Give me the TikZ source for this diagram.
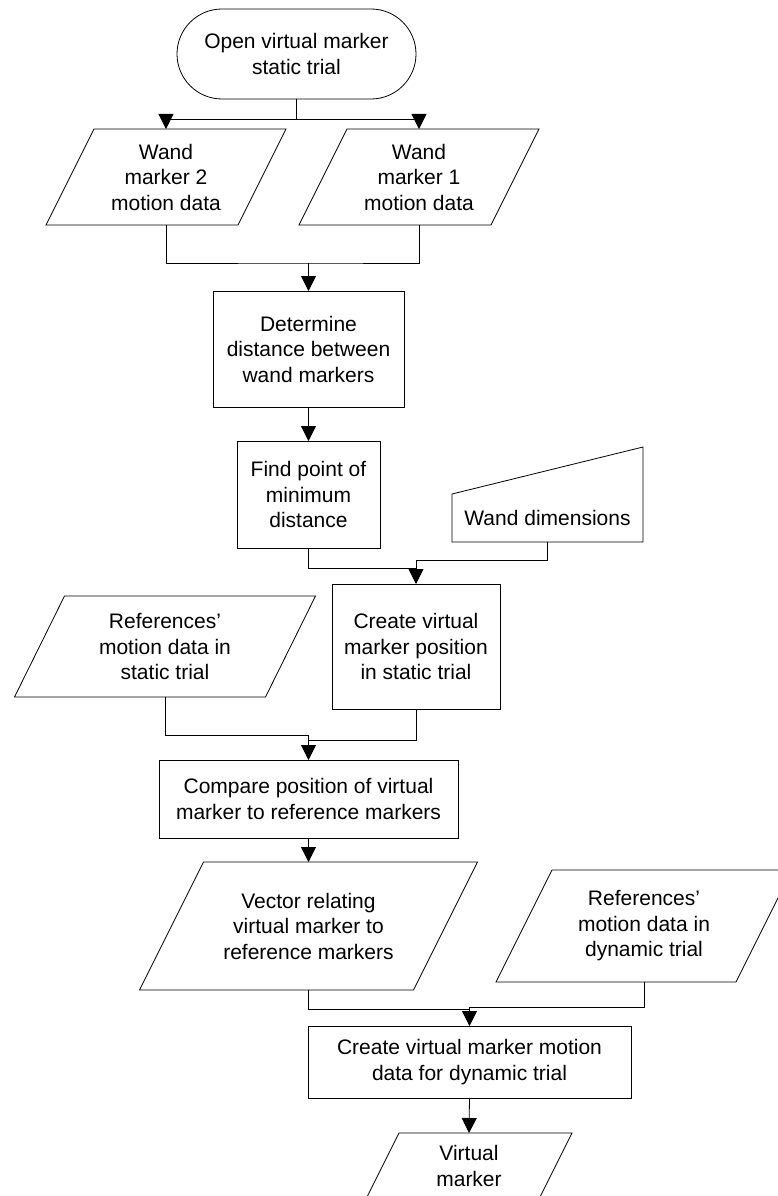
\documentclass[tikz,border=0pt]{standalone}
\usepackage{fontspec}
\setmainfont{Liberation Sans}
\usetikzlibrary{arrows.meta}

% slanted outline round a named text node
\newcommand{\dataframe}[2]{%
	\draw ([xshift = #2]#1.north west) -- ([xshift = #2]#1.north east)
		-- ([xshift = -#2]#1.south east) -- ([xshift = -#2]#1.south west) -- cycle;}

\begin{document}
\begin{tikzpicture}[x = 1pt, y = -1pt,
	line width = 0.8pt,
	every node/.style = {font = \fontsize{21}{25.5}\selectfont,
						 align = center,
						 inner sep = 0pt,
						 outer sep = 0pt},
	process/.style = {draw = black,
					  shape = rectangle},
	flow/.style = {-{Triangle[width = 15pt, length = 15pt]}}]

	\useasboundingbox (0,0) rectangle (778,1196);
	\clip (0,0) rectangle (778,1196);

	\draw (296.5,54) node[process,
					 rounded corners = 45pt,
					 minimum width = 239pt,
					 minimum height = 90pt] (open) {Open virtual marker\\static trial};

	\draw (166,177) node[minimum width = 192pt,
					 minimum height = 96pt] (wandtwo) {Wand\\marker 2\\motion data};
	\dataframe{wandtwo}{24pt}

	\draw (419,177) node[minimum width = 192pt,
					 minimum height = 96pt] (wandone) {Wand\\marker 1\\motion data};
	\dataframe{wandone}{24pt}

	\draw (308.5,349) node[process,
					 minimum width = 191pt,
					 minimum height = 116pt] (determine) {Determine\\distance between\\wand markers};

	\draw (308.5,494.5) node[process,
					 minimum width = 143pt,
					 minimum height = 107pt] (findpoint) {Find point of\\minimum\\distance};

	\draw (547.5,518) node[minimum width = 191pt,
					 minimum height = 48pt] (dims) {Wand dimensions};
	\draw (dims.north west) -- (dims.south west) -- (dims.south east)
		-- ([yshift = 47pt]dims.north east) -- cycle;

	\draw (416,646.5) node[process,
					 minimum width = 168pt,
					 minimum height = 125pt] (create) {Create virtual\\marker position\\in static trial};

	\draw (165,646.5) node[minimum width = 251pt,
					 minimum height = 101pt] (refstatic) {References’\\motion data in\\static trial};
	\dataframe{refstatic}{25pt}

	\draw (308.5,799) node[process,
					 minimum width = 299pt,
					 minimum height = 78pt] (compare) {Compare position of virtual\\marker to reference markers};

	\draw (308.5,926) node[minimum width = 274pt,
					 minimum height = 128pt] (vector) {Vector relating\\virtual marker to\\reference markers};
	\dataframe{vector}{32pt}

	\draw (644,926) node[minimum width = 240pt,
					 minimum height = 112pt] (refdynamic) {References’\\motion data in\\dynamic trial};
	\dataframe{refdynamic}{28pt}

	\draw (469.5,1062) node[process,
					 minimum width = 323pt,
					 minimum height = 72pt] (motion) {Create virtual marker motion\\data for dynamic trial};

	\draw (469,1166) node[minimum width = 173pt,
					 minimum height = 66pt] (virtual) {Virtual\\marker};
	\dataframe{virtual}{16.5pt}

	% junctions
	\coordinate (joinA) at (308.5,263);
	\coordinate (joinB) at (416,568);
	\coordinate (joinC) at (308.5,740);
	\coordinate (joinD) at (469.5,1009);

	\draw[flow] (open.south) -- ++(0,20) -| (wandtwo.north);
	\draw[flow] (open.south) -- ++(0,20) -| (wandone.north);

	\draw (wandtwo.south) |- (joinA) -| (wandone.south);
	\draw[flow] (joinA) -- (determine.north);
	\draw[flow] (determine.south) -- (findpoint.north);

	\draw (findpoint.south) |- (joinB);
	\draw[flow] (dims.south) -- ++(0,18) -| (create.north);

	\draw[flow] (refstatic.south) -- ++(0,38) -| (compare.north);
	\draw (create.south) |- (joinC);
	\draw[flow] (compare.south) -- (vector.north);

	\draw (vector.south) |- (joinD);
	\draw[flow] (refdynamic.south) -- ++(0,25) -| (motion.north);
	\draw[flow] (motion.south) -- (virtual.north);
\end{tikzpicture}
\end{document}
